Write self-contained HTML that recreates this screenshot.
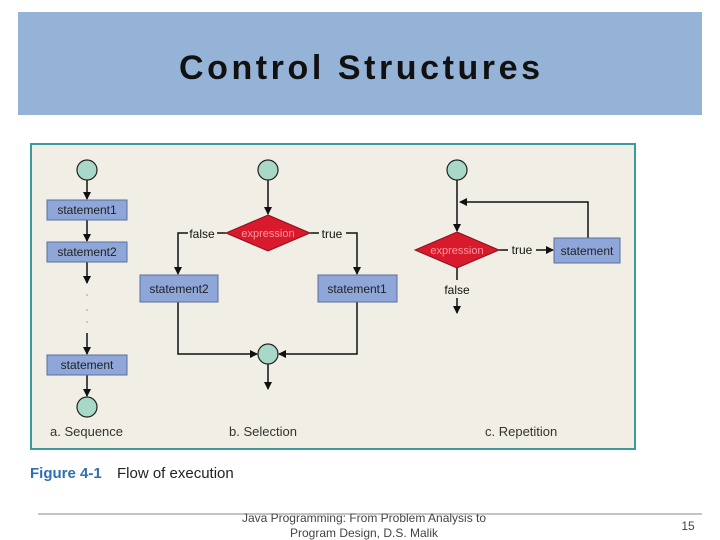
<!DOCTYPE html>
<html><head><meta charset="utf-8"><style>
html,body{margin:0;padding:0;background:#fff;}
svg{display:block;font-family:"Liberation Sans",sans-serif;}
</style></head><body>
<svg width="720" height="540" viewBox="0 0 720 540" xmlns="http://www.w3.org/2000/svg">
<defs>
<marker id="a" markerWidth="8" markerHeight="8" refX="7" refY="4" orient="auto" markerUnits="userSpaceOnUse"><path d="M0,0 L8,4 L0,8 z" fill="#111"/></marker>
</defs>
<rect x="18" y="12" width="684" height="103" fill="#95b3d7"/>
<text x="179" y="79" font-size="34" font-weight="bold" fill="#111" textLength="361" lengthAdjust="spacing">Control Structures</text>
<rect x="31" y="144" width="604" height="305" fill="#f1eee5" stroke="#3a9aa0" stroke-width="2"/>
<g stroke="#111" stroke-width="1.5" fill="none">
<line x1="87" y1="180" x2="87" y2="199" marker-end="url(#a)"/>
<line x1="87" y1="220" x2="87" y2="241" marker-end="url(#a)"/>
<line x1="87" y1="262" x2="87" y2="283" marker-end="url(#a)"/>
<line x1="87" y1="333" x2="87" y2="354" marker-end="url(#a)"/>
<line x1="87" y1="375" x2="87" y2="396" marker-end="url(#a)"/>
<line x1="268" y1="180" x2="268" y2="214" marker-end="url(#a)"/>
<line x1="217" y1="233" x2="226" y2="233"/>
<polyline points="188,233 178,233 178,274" marker-end="url(#a)"/>
<line x1="310" y1="233" x2="319" y2="233"/>
<polyline points="346,233 357,233 357,274" marker-end="url(#a)"/>
<polyline points="178,302 178,354 257,354" marker-end="url(#a)"/>
<polyline points="357,302 357,354 279,354" marker-end="url(#a)"/>
<line x1="268" y1="364" x2="268" y2="389" marker-end="url(#a)"/>
<line x1="457" y1="180" x2="457" y2="231" marker-end="url(#a)"/>
<polyline points="588,238 588,202 460,202" marker-end="url(#a)"/>
<line x1="536" y1="250" x2="553" y2="250" marker-end="url(#a)"/>
<line x1="499" y1="250" x2="508" y2="250"/>
<line x1="457" y1="268" x2="457" y2="280"/>
<line x1="457" y1="298" x2="457" y2="313" marker-end="url(#a)"/>
</g>
<g fill="#999"><circle cx="87" cy="295" r="0.8"/><circle cx="87" cy="310" r="0.8"/><circle cx="87" cy="322" r="0.8"/></g>
<g fill="#a8d8c8" stroke="#222" stroke-width="1.2">
<circle cx="87" cy="170" r="10"/><circle cx="87" cy="407" r="10"/>
<circle cx="268" cy="170" r="10"/><circle cx="268" cy="354" r="10"/>
<circle cx="457" cy="170" r="10"/>
</g>
<g fill="#8ea6d8" stroke="#5a6fa0" stroke-width="1">
<rect x="47" y="200" width="80" height="20"/>
<rect x="47" y="242" width="80" height="20"/>
<rect x="47" y="355" width="80" height="20"/>
<rect x="140" y="275" width="78" height="27"/>
<rect x="318" y="275" width="79" height="27"/>
<rect x="554" y="238" width="66" height="25"/>
</g>
<g fill="#d9192c" stroke="#8a1020" stroke-width="1">
<polygon points="268,215 310,233 268,251 226,233"/>
<polygon points="457,232 499,250 457,268 415,250"/>
</g>
<g font-size="12" fill="#222" text-anchor="middle">
<text x="87" y="214">statement1</text>
<text x="87" y="256">statement2</text>
<text x="87" y="369">statement</text>
<text x="179" y="293">statement2</text>
<text x="357" y="293">statement1</text>
<text x="587" y="255">statement</text>
<text x="202" y="238" fill="#111">false</text>
<text x="332" y="238" fill="#111">true</text>
<text x="522" y="254" fill="#111">true</text>
<text x="457" y="294" fill="#111">false</text>
</g>
<g font-size="11" fill="#ff9aa0" text-anchor="middle">
<text x="268" y="237">expression</text>
<text x="457" y="254">expression</text>
</g>
<g font-size="13" fill="#333">
<text x="50" y="436">a.  Sequence</text>
<text x="229" y="436">b.  Selection</text>
<text x="485" y="436">c.  Repetition</text>
</g>
<text x="30" y="478" font-size="15" font-weight="bold" fill="#2f6db5">Figure 4-1</text>
<text x="117" y="478" font-size="15" fill="#222">Flow of execution</text>
<line x1="38" y1="514" x2="702" y2="514" stroke="#888" stroke-width="1"/>
<g font-size="12" fill="#444" text-anchor="middle">
<text x="364" y="522">Java Programming: From Problem Analysis to</text>
<text x="364" y="537">Program Design, D.S. Malik</text>
</g>
<text x="688" y="530" font-size="12" fill="#444" text-anchor="middle">15</text>
</svg>
</body></html>
